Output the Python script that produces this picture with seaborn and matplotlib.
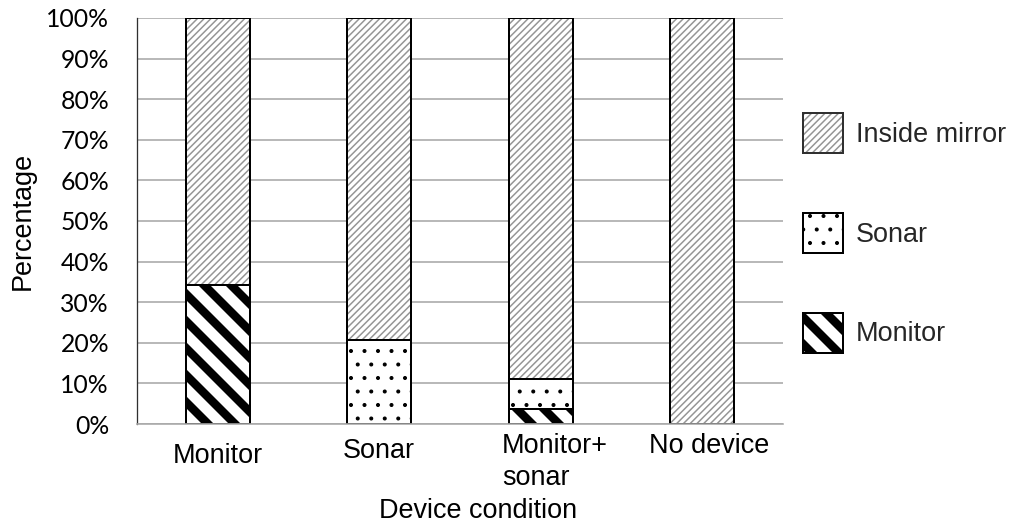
import matplotlib
matplotlib.use("Agg")
import matplotlib.pyplot as plt
from matplotlib.patches import Patch, Rectangle
from matplotlib.legend_handler import HandlerTuple
from matplotlib.transforms import ScaledTranslation
import seaborn as sns

# ---------------- data ----------------
categories = ["Monitor", "Sonar", "Monitor+\nsonar", "No device"]
monitor = [34.3, 0.0, 3.7, 0.0]
sonar = [0.0, 20.7, 7.4, 0.0]
inside_mirror = [65.7, 79.3, 88.9, 100.0]
series_names = ["Inside mirror", "Sonar", "Monitor"]
y_ticks = [0, 10, 20, 30, 40, 50, 60, 70, 80, 90, 100]
y_tick_labels = [f"{v}%" for v in y_ticks]
x_title = "Device condition"
y_title = "Percentage"

# ---------------- style ----------------
DPI = 162
sns.set_style("white")
plt.rcParams["font.family"] = ["Liberation Sans", "DejaVu Sans"]

def px(v):
    return v * 72.0 / DPI

fig = plt.figure(figsize=(1012 / DPI, 522 / DPI), dpi=DPI)
ax = fig.add_axes([137 / 1012, 1 - 424 / 522, 646 / 1012, 406 / 522])

cum_sonar = [m + s for m, s in zip(monitor, sonar)]
totals = [c + i for c, i in zip(cum_sonar, inside_mirror)]

BAR_W = 0.395
EDGE_LW = px(2.0)
MIRROR_GRAY = "#959595"
MIRROR_HATCH = "////////"
SONAR_HATCH = ".."
MONITOR_HATCH = "\\\\"
HATCH_LW = {MIRROR_HATCH: px(1.5), SONAR_HATCH: px(1.3), MONITOR_HATCH: px(8.5)}


def layer(values, hatch, edge, lw):
    plt.rcParams["hatch.linewidth"] = HATCH_LW[hatch]
    before = len(ax.patches)
    sns.barplot(x=categories, y=values, order=categories, ax=ax,
                width=BAR_W, color="white", errorbar=None, saturation=1)
    bars = ax.patches[before:]
    for p in bars:
        p.set_facecolor("white")
        p.set_edgecolor(edge)
        p.set_linewidth(lw)
        p.set_hatch(hatch)
        if hasattr(p, "set_hatch_linewidth"):
            p.set_hatch_linewidth(HATCH_LW[hatch])
    return bars


mirror_bars = layer(totals, MIRROR_HATCH, MIRROR_GRAY, 0)
sonar_bars = layer(cum_sonar, SONAR_HATCH, "black", EDGE_LW)
monitor_bars = layer(monitor, MONITOR_HATCH, "black", EDGE_LW)
for p in mirror_bars:
    ax.add_patch(Rectangle((p.get_x(), p.get_y()), p.get_width(), p.get_height(),
                           fill=False, edgecolor="black", linewidth=EDGE_LW,
                           zorder=p.get_zorder()))

# ---------------- axes ----------------
ax.set_ylim(0, 100)
ax.set_xlim(-0.5, len(categories) - 0.5)
ax.set_yticks(y_ticks)
ax.set_yticklabels(y_tick_labels, fontfamily=["Lato", "DejaVu Sans"], fontsize=11)
ax.yaxis.grid(True, color="#a8a8a8", linewidth=px(1.6))
ax.xaxis.grid(False)
ax.set_axisbelow(True)
ax.tick_params(axis="y", length=0, pad=px(28), labelcolor="black")
ax.tick_params(axis="x", length=0, pad=px(9), labelsize=12, labelcolor="black")
for s in ["top", "right"]:
    ax.spines[s].set_visible(False)
ax.spines["bottom"].set_color("#a8a8a8")
ax.spines["bottom"].set_linewidth(px(1.6))
ax.spines["left"].set_color("#303030")
ax.spines["left"].set_linewidth(px(1.3))

offsets = {"Monitor": (0, 10), "Sonar": (0, 5), "Monitor+\nsonar": (14, 0), "No device": (7, 0)}
for lab in ax.get_xticklabels():
    dx, dy = offsets.get(lab.get_text(), (0, 0))
    lab.set_linespacing(1.3)
    lab.set_multialignment("left")
    lab.set_transform(lab.get_transform() +
                      ScaledTranslation(dx / DPI, -dy / DPI, fig.dpi_scale_trans))

ax.set_xlabel(x_title, fontsize=12, color="black")
ax.xaxis.label.set_va("baseline")
ax.xaxis.set_label_coords((478.5 - 137) / 646, -(518 - 424) / 406)
ax.set_ylabel(y_title, fontsize=12, color="black")
ax.yaxis.set_label_coords((36 - 137) / 646, 0.5)

# ---------------- legend ----------------
h_mirror = (Patch(facecolor="white", edgecolor=MIRROR_GRAY, linewidth=0, hatch=MIRROR_HATCH),
            Patch(fill=False, edgecolor="#303030", linewidth=EDGE_LW))
h_sonar = Patch(facecolor="white", edgecolor="black", linewidth=EDGE_LW, hatch=SONAR_HATCH)
h_monitor = Patch(facecolor="white", edgecolor="black", linewidth=EDGE_LW, hatch=MONITOR_HATCH)
leg = ax.legend([h_mirror, h_sonar, h_monitor], series_names,
                handler_map={tuple: HandlerTuple(ndivide=1, pad=0)},
                loc="upper left", bbox_to_anchor=(803 / 1012, 1 - 113 / 522),
                bbox_transform=fig.transFigure, frameon=False, fontsize=12,
                handlelength=40 / 27, handleheight=1.9, handletextpad=13 / 27,
                labelspacing=2.22, borderpad=0, borderaxespad=0)
for p in leg.get_patches():
    h = p.get_hatch()
    if h in HATCH_LW and hasattr(p, "set_hatch_linewidth"):
        p.set_hatch_linewidth(HATCH_LW[h])

fig.savefig("out.png", dpi=DPI)
